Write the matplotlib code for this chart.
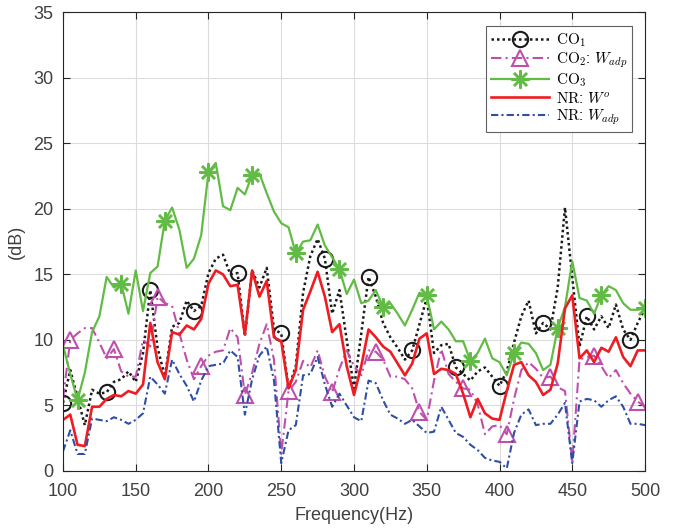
import numpy as np
import matplotlib
matplotlib.use('Agg')
import matplotlib.pyplot as plt

# data (5 Hz steps)
freq = list(range(100, 505, 5))

co1 = [5.2, 7.7, 5.6, 3.5, 6.2, 5.9, 6.0, 6.8, 7.0, 7.6, 6.8, 9.0, 13.8, 9.4, 7.2, 11.0, 11.3,
       13.0, 12.2, 12.6, 15.1, 16.2, 16.5, 15.0, 15.1, 10.3, 15.3, 14.0, 15.5, 10.8, 10.5, 6.3,
       8.0, 13.6, 16.4, 17.7, 16.2, 12.0, 13.8, 10.0, 6.3, 10.5, 14.8, 13.3, 11.3, 10.2, 9.4,
       8.5, 9.2, 11.2, 13.2, 9.0, 9.6, 9.7, 7.9, 7.4, 6.9, 7.6, 7.9, 7.2, 6.5, 7.6, 9.8, 11.8,
       13.0, 10.5, 11.3, 10.8, 14.0, 20.1, 14.8, 9.5, 11.8, 10.8, 11.8, 10.9, 12.7, 10.8, 10.0,
       11.3, 12.4]

co2 = [5.5, 10.0, 10.5, 10.9, 10.9, 9.8, 8.6, 9.3, 7.6, 7.2, 7.2, 10.0, 9.5, 13.3, 12.8, 12.6,
       10.5, 8.5, 7.0, 8.0, 8.8, 9.1, 9.2, 10.9, 10.2, 5.8, 7.5, 9.7, 11.2, 8.5, 1.3, 6.1, 6.8,
       8.4, 7.9, 9.2, 7.2, 6.0, 7.8, 9.2, 8.0, 7.3, 9.2, 9.1, 8.5, 7.2, 7.2, 7.0, 6.3, 4.5, 3.9,
       6.9, 9.3, 7.4, 6.8, 6.3, 6.2, 5.1, 2.8, 3.4, 3.5, 2.8, 5.5, 7.7, 8.3, 7.8, 7.1, 7.2, 6.4,
       6.1, 0.7, 8.5, 8.7, 8.8, 8.0, 7.1, 7.7, 6.7, 5.9, 5.3, 4.9]

co3 = [9.6, 7.4, 5.4, 7.5, 10.6, 11.8, 14.8, 14.0, 14.3, 12.0, 15.3, 12.2, 15.1, 15.6, 19.1,
       20.1, 18.4, 15.5, 16.2, 18.0, 22.8, 23.5, 20.2, 19.9, 21.6, 21.1, 22.6, 22.7, 21.2, 19.8,
       18.9, 18.6, 16.6, 17.5, 17.6, 18.8, 17.2, 16.3, 15.4, 13.5, 14.6, 12.8, 13.0, 13.8, 12.5,
       12.8, 12.0, 11.1, 12.3, 13.6, 13.4, 10.8, 11.4, 10.8, 9.9, 9.9, 8.4, 9.0, 10.1, 8.6, 8.3,
       7.3, 9.0, 9.8, 9.7, 9.0, 7.7, 8.1, 10.9, 12.5, 16.0, 13.2, 13.0, 12.0, 13.4, 14.1, 13.8,
       12.8, 12.3, 12.3, 12.4]

nr_wo = [3.9, 4.3, 2.0, 1.9, 4.9, 4.9, 5.5, 5.8, 5.7, 6.1, 5.9, 6.6, 11.3, 8.3, 7.0, 10.6, 10.4,
         11.1, 10.8, 11.6, 14.3, 15.3, 15.0, 14.1, 14.2, 10.4, 15.3, 13.3, 14.5, 10.2, 9.9, 6.3,
         7.7, 12.3, 13.7, 15.2, 13.3, 10.6, 11.2, 8.0, 5.8, 8.0, 10.8, 10.2, 9.5, 9.1, 8.2, 7.3,
         8.2, 10.1, 10.5, 7.4, 7.8, 7.7, 7.4, 5.9, 4.1, 5.5, 4.4, 4.0, 3.9, 6.1, 8.1, 8.3, 7.3,
         6.8, 5.8, 6.2, 8.2, 12.4, 13.4, 8.6, 9.2, 8.3, 9.4, 9.1, 10.2, 8.7, 8.0, 9.2, 9.2]

nr_wadp = [1.5, 3.1, 1.3, 1.3, 4.0, 3.9, 3.8, 4.1, 3.9, 3.6, 3.9, 4.4, 7.2, 6.6, 5.9, 8.5, 7.4,
           6.5, 5.3, 6.9, 8.0, 8.1, 8.2, 9.2, 8.7, 4.3, 7.0, 8.8, 9.5, 6.9, 0.6, 3.1, 3.5, 7.3,
           7.4, 8.7, 6.6, 4.9, 5.9, 5.0, 4.1, 3.8, 6.9, 6.7, 5.4, 4.3, 4.0, 3.6, 3.9, 3.4, 2.9,
           3.0, 4.9, 3.9, 2.9, 2.6, 2.0, 1.6, 1.0, 0.8, 0.7, 0.2, 2.9, 4.3, 4.7, 3.5, 3.6, 3.6,
           4.3, 5.2, 0.6, 5.3, 5.5, 5.4, 4.9, 5.4, 5.7, 4.9, 3.6, 3.6, 3.5]

labels = [r'$\mathrm{CO}_1$', r'$\mathrm{CO}_2$: $W_{adp}$', r'$\mathrm{CO}_3$',
          r'$\mathrm{NR}$: $W^o$', r'$\mathrm{NR}$: $W_{adp}$']

plt.rcParams['font.family'] = ['Liberation Sans', 'DejaVu Sans']
plt.rcParams['mathtext.fontset'] = 'cm'

fig = plt.figure(figsize=(6.73, 5.31), dpi=100)
ax = fig.add_axes([0.0936, 0.113, 0.8648, 0.864])

ax.plot(freq, co1, color='#1a1a1a', linestyle=(0, (1, 1.2)), linewidth=1.8, marker='o',
        markersize=11, markerfacecolor='none', markeredgewidth=1.5, markevery=(0, 6),
        label=labels[0])
ax.plot(freq, co2, color='#BF4FAD', linestyle=(0, (5, 2, 1, 2)), linewidth=1.5, marker='^',
        markersize=12, markerfacecolor='none', markeredgewidth=1.5, markevery=(1, 6),
        label=labels[1])
ax.plot(freq, co3, color='#62BB45', linestyle='-', linewidth=1.6, marker=(8, 2, 0),
        markersize=13, markeredgewidth=1.8, markevery=(2, 6),
        label=labels[2])
ax.plot(freq, nr_wo, color='#EE1D23', linestyle='-', linewidth=1.9, label=labels[3])
ax.plot(freq, nr_wadp, color='#2E4FA5', linestyle=(0, (3.5, 1.5, 1, 1.5)), linewidth=1.5,
        label=labels[4])

ax.set_xlim(100, 500)
ax.set_ylim(0, 35)
ax.set_xticks(range(100, 501, 50))
ax.set_yticks(range(0, 36, 5))
ax.grid(color='#dcdcdc', linewidth=0.8)
ax.set_axisbelow(True)

ax.tick_params(direction='in', top=True, right=True, length=5, width=0.8,
               labelsize=13, labelcolor='#404040', color='#262626')
ax.tick_params(axis='x', pad=9)
ax.tick_params(axis='y', pad=7)
for sp in ax.spines.values():
    sp.set_color('#262626')
    sp.set_linewidth(0.8)

ax.set_xlabel('Frequency(Hz)', fontsize=13, color='#404040', labelpad=5)
ax.set_ylabel('(dB)', fontsize=13, color='#404040', labelpad=6)

leg = ax.legend(loc='upper right', bbox_to_anchor=(0.978, 0.97), borderaxespad=0,
                fancybox=False, framealpha=1, edgecolor='#606060', borderpad=0.35,
                labelspacing=0.1, handlelength=3.8, handletextpad=0.4,
                prop={'size': 11})
leg.get_frame().set_linewidth(0.8)

plt.savefig('out.png', dpi=100)
